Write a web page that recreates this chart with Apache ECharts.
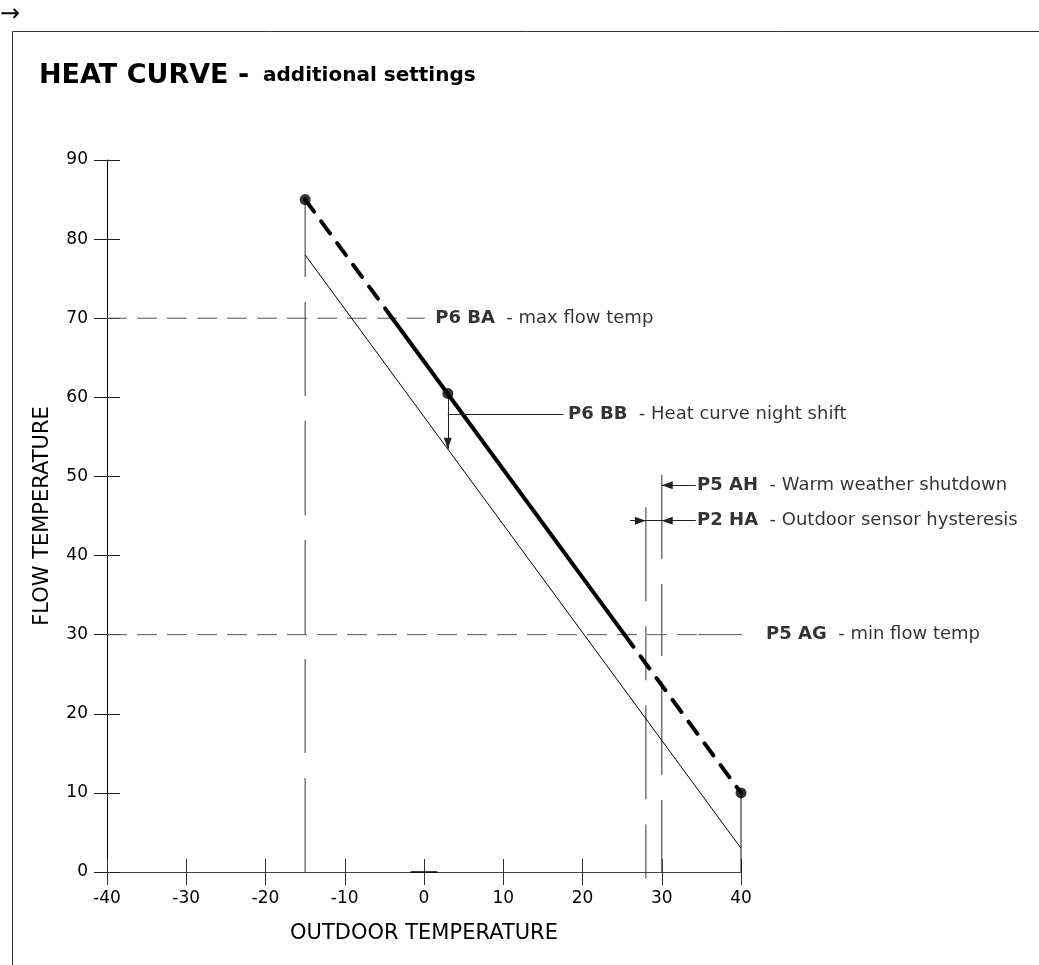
<!DOCTYPE html>
<html>
<head>
<meta charset="utf-8">
<script src="https://cdn.jsdelivr.net/npm/echarts@6/dist/echarts.min.js"></script>
<style>
html,body{margin:0;padding:0;background:#fff;}
#chart{width:1039px;height:965px;}
</style>
</head>
<body>
<div id="chart"></div>
<script>
// ---- axes ----
const xRange = [-40, 40];
const yRange = [0, 90];
const tickStep = 10;

// ---- heat curve (bold) ----
const heatCurveKnots = [[-15, 85], [3, 60.5], [40, 10]];
const heatCurveUpperDashed = [[-15, 85], [-4, 70]];
const heatCurveSolid = [[-4, 70], [25.3, 30]];
const heatCurveLowerDashed = [[25.3, 30], [40, 10]];

// ---- night-shifted curve (thin) ----
const nightShiftCurve = [[-15, 78], [40, 3]];

// ---- reference lines ----
const maxFlowLine = [[-40, 70], [0.1, 70]];
const minFlowLine = [[-40, 30], [34.6, 30]];
const minFlowLeader = [[34.6, 30], [42.1, 30]];
const coldLimitLine = [[-15, 0], [-15, 85]];
const hysteresisLine = [[28, -0.8], [28, 46.3]];
const shutdownLine = [[30, 0], [30, 50.2]];
const endDropLine = [[40, 0], [40, 10]];
const originStub = [[-1.7, 0], [1.7, 0]];

// ---- annotations ----
const annotationCodes = ['P6 BA', 'P6 BB', 'P5 AH', 'P2 HA', 'P5 AG'];
const annotationTexts = ['max flow temp', 'Heat curve night shift', 'Warm weather shutdown', 'Outdoor sensor hysteresis', 'min flow temp'];
const annotationAnchors = [[1.35, 70], [18.1, 57.9], [34.4, 48.9], [34.4, 44.4], [43.1, 30]];

// leader lines: [from, to, arrowHeadAtTo]
const leaderLines = [
  [[3, 60.5], [3, 53.5], true],
  [[3, 57.9], [17.6, 57.9], false],
  [[34.3, 48.9], [30, 48.9], true],
  [[34.3, 44.4], [30, 44.4], true],
  [[26, 44.4], [28, 44.4], true],
  [[28, 44.4], [30, 44.4], false]
];

const FONT = 'DejaVu Sans';

function seg(name, data, lineStyle, z) {
  return {
    type: 'line', name: name, data: data, symbol: 'none', clip: false,
    silent: true, animation: false, z: z || 2,
    lineStyle: lineStyle
  };
}

const chart = echarts.init(document.getElementById('chart'), null, {renderer: 'canvas'});

const baseX = {
  type: 'value', min: xRange[0], max: xRange[1], interval: tickStep,
  splitLine: {show: false}
};
const baseY = {
  type: 'value', min: yRange[0], max: yRange[1], interval: tickStep,
  splitLine: {show: false}
};

const option = {
  animation: false,
  backgroundColor: '#fff',
  title: {
    text: '{a|HEAT CURVE -}{b|  additional settings}',
    left: 34, top: 57,
    textStyle: {
      rich: {
        a: {fontSize: 27, fontWeight: 'bold', fontFamily: FONT, color: '#000'},
        b: {fontSize: 20, fontWeight: 'bold', fontFamily: FONT, color: '#000'}
      }
    }
  },
  graphic: [
    {type: 'rect', silent: true, z: -10,
     shape: {x: 12.5, y: 31.5, width: 1100, height: 1000},
     style: {fill: null, stroke: '#333', lineWidth: 1}},
    {type: 'text', left: 0, top: 3, silent: true,
     style: {text: '→', fontSize: 24, fontFamily: FONT, fill: '#000'}}
  ],
  grid: {left: 107, right: 298, top: 160, bottom: 93, containLabel: false},
  xAxis: [
    Object.assign({}, baseX, {
      position: 'bottom',
      axisLine: {show: true, onZero: false, lineStyle: {color: '#444', width: 1}},
      axisTick: {show: true, inside: false, length: 13, lineStyle: {color: '#333', width: 1}},
      axisLabel: {margin: 18, fontSize: 17, fontFamily: FONT, color: '#000'},
      name: 'OUTDOOR TEMPERATURE', nameLocation: 'middle', nameGap: 51,
      nameTextStyle: {fontSize: 21, fontFamily: FONT, color: '#000'}
    }),
    Object.assign({}, baseX, {
      position: 'bottom', offset: 0,
      axisLine: {show: false, onZero: false},
      axisTick: {show: true, inside: true, length: 13, lineStyle: {color: '#333', width: 1}},
      axisLabel: {show: false}
    })
  ],
  yAxis: [
    Object.assign({}, baseY, {
      position: 'left',
      axisLine: {show: true, onZero: false, lineStyle: {color: '#000', width: 1}},
      axisTick: {show: true, inside: false, length: 13, lineStyle: {color: '#222', width: 1}},
      axisLabel: {margin: 19, fontSize: 17, fontFamily: FONT, color: '#000'},
      name: 'FLOW TEMPERATURE', nameLocation: 'middle', nameGap: 54,
      nameTextStyle: {fontSize: 21, fontFamily: FONT, color: '#000'}
    }),
    Object.assign({}, baseY, {
      position: 'left', offset: 0,
      axisLine: {show: false, onZero: false},
      axisTick: {show: true, inside: true, length: 13, lineStyle: {color: '#222', width: 1}},
      axisLabel: {show: false}
    })
  ],
  series: [
    seg('max flow temp', maxFlowLine, {color: '#555', width: 1, type: [20, 10]}, 1),
    seg('min flow temp', minFlowLine, {color: '#555', width: 1, type: [20, 10]}, 1),
    seg('min flow leader', minFlowLeader, {color: '#555', width: 1, type: 'solid'}, 1),
    seg('cold limit', coldLimitLine, {color: '#333', width: 1, type: [94, 25]}, 1),
    seg('hysteresis', hysteresisLine, {color: '#333', width: 1, type: [54, 25, 94, 25]}, 1),
    seg('shutdown', shutdownLine, {color: '#555', width: 1.2, type: [72, 25, 94, 25]}, 1),
    seg('end drop', endDropLine, {color: '#111', width: 1, type: 'solid'}, 1),
    seg('origin stub', originStub, {color: '#000', width: 1.5, type: 'solid'}, 1),
    Object.assign(seg('night shift curve', nightShiftCurve, {color: '#000', width: 1, type: 'solid'}, 3), {
      markLine: {
        silent: true, animation: false,
        symbol: ['none', 'none'],
        label: {show: false},
        emphasis: {disabled: true},
        lineStyle: {color: '#222', width: 1, type: 'solid'},
        data: leaderLines.map(function (l) {
          return [
            {coord: l[0], symbol: 'none'},
            l[2] ? {coord: l[1], symbol: 'triangle', symbolSize: [8, 11], symbolOffset: [0, 5.5]}
                 : {coord: l[1], symbol: 'none'}
          ];
        })
      }
    }),
    seg('heat curve dashed upper', heatCurveUpperDashed, {color: '#000', width: 4, type: [15, 12], cap: 'round'}, 4),
    seg('heat curve', heatCurveSolid, {color: '#000', width: 4, type: 'solid'}, 4),
    seg('heat curve dashed lower', heatCurveLowerDashed, {color: '#000', width: 4, type: [15, 12], cap: 'round'}, 4),
    {
      type: 'scatter', name: 'knots', data: heatCurveKnots, symbol: 'circle', symbolSize: 11,
      itemStyle: {color: '#000'}, silent: true, clip: false, z: 5, animation: false
    },
    {
      type: 'scatter', name: 'annotations', clip: false, silent: true, z: 6, animation: false,
      symbol: 'circle', symbolSize: 1, itemStyle: {color: 'rgba(0,0,0,0)'},
      data: annotationAnchors.map(function (a, i) {
        return {value: a, code: annotationCodes[i], text: annotationTexts[i]};
      }),
      label: {
        show: true, position: 'right', distance: 0, color: '#000',
        formatter: function (p) { return '{c|' + p.data.code + '}{t|  - ' + p.data.text + '}'; },
        rich: {
          c: {fontSize: 18, fontWeight: 'bold', fontFamily: FONT, color: '#000'},
          t: {fontSize: 18, fontFamily: FONT, color: '#000'}
        }
      }
    }
  ]
};

chart.setOption(option);
</script>
</body>
</html>
